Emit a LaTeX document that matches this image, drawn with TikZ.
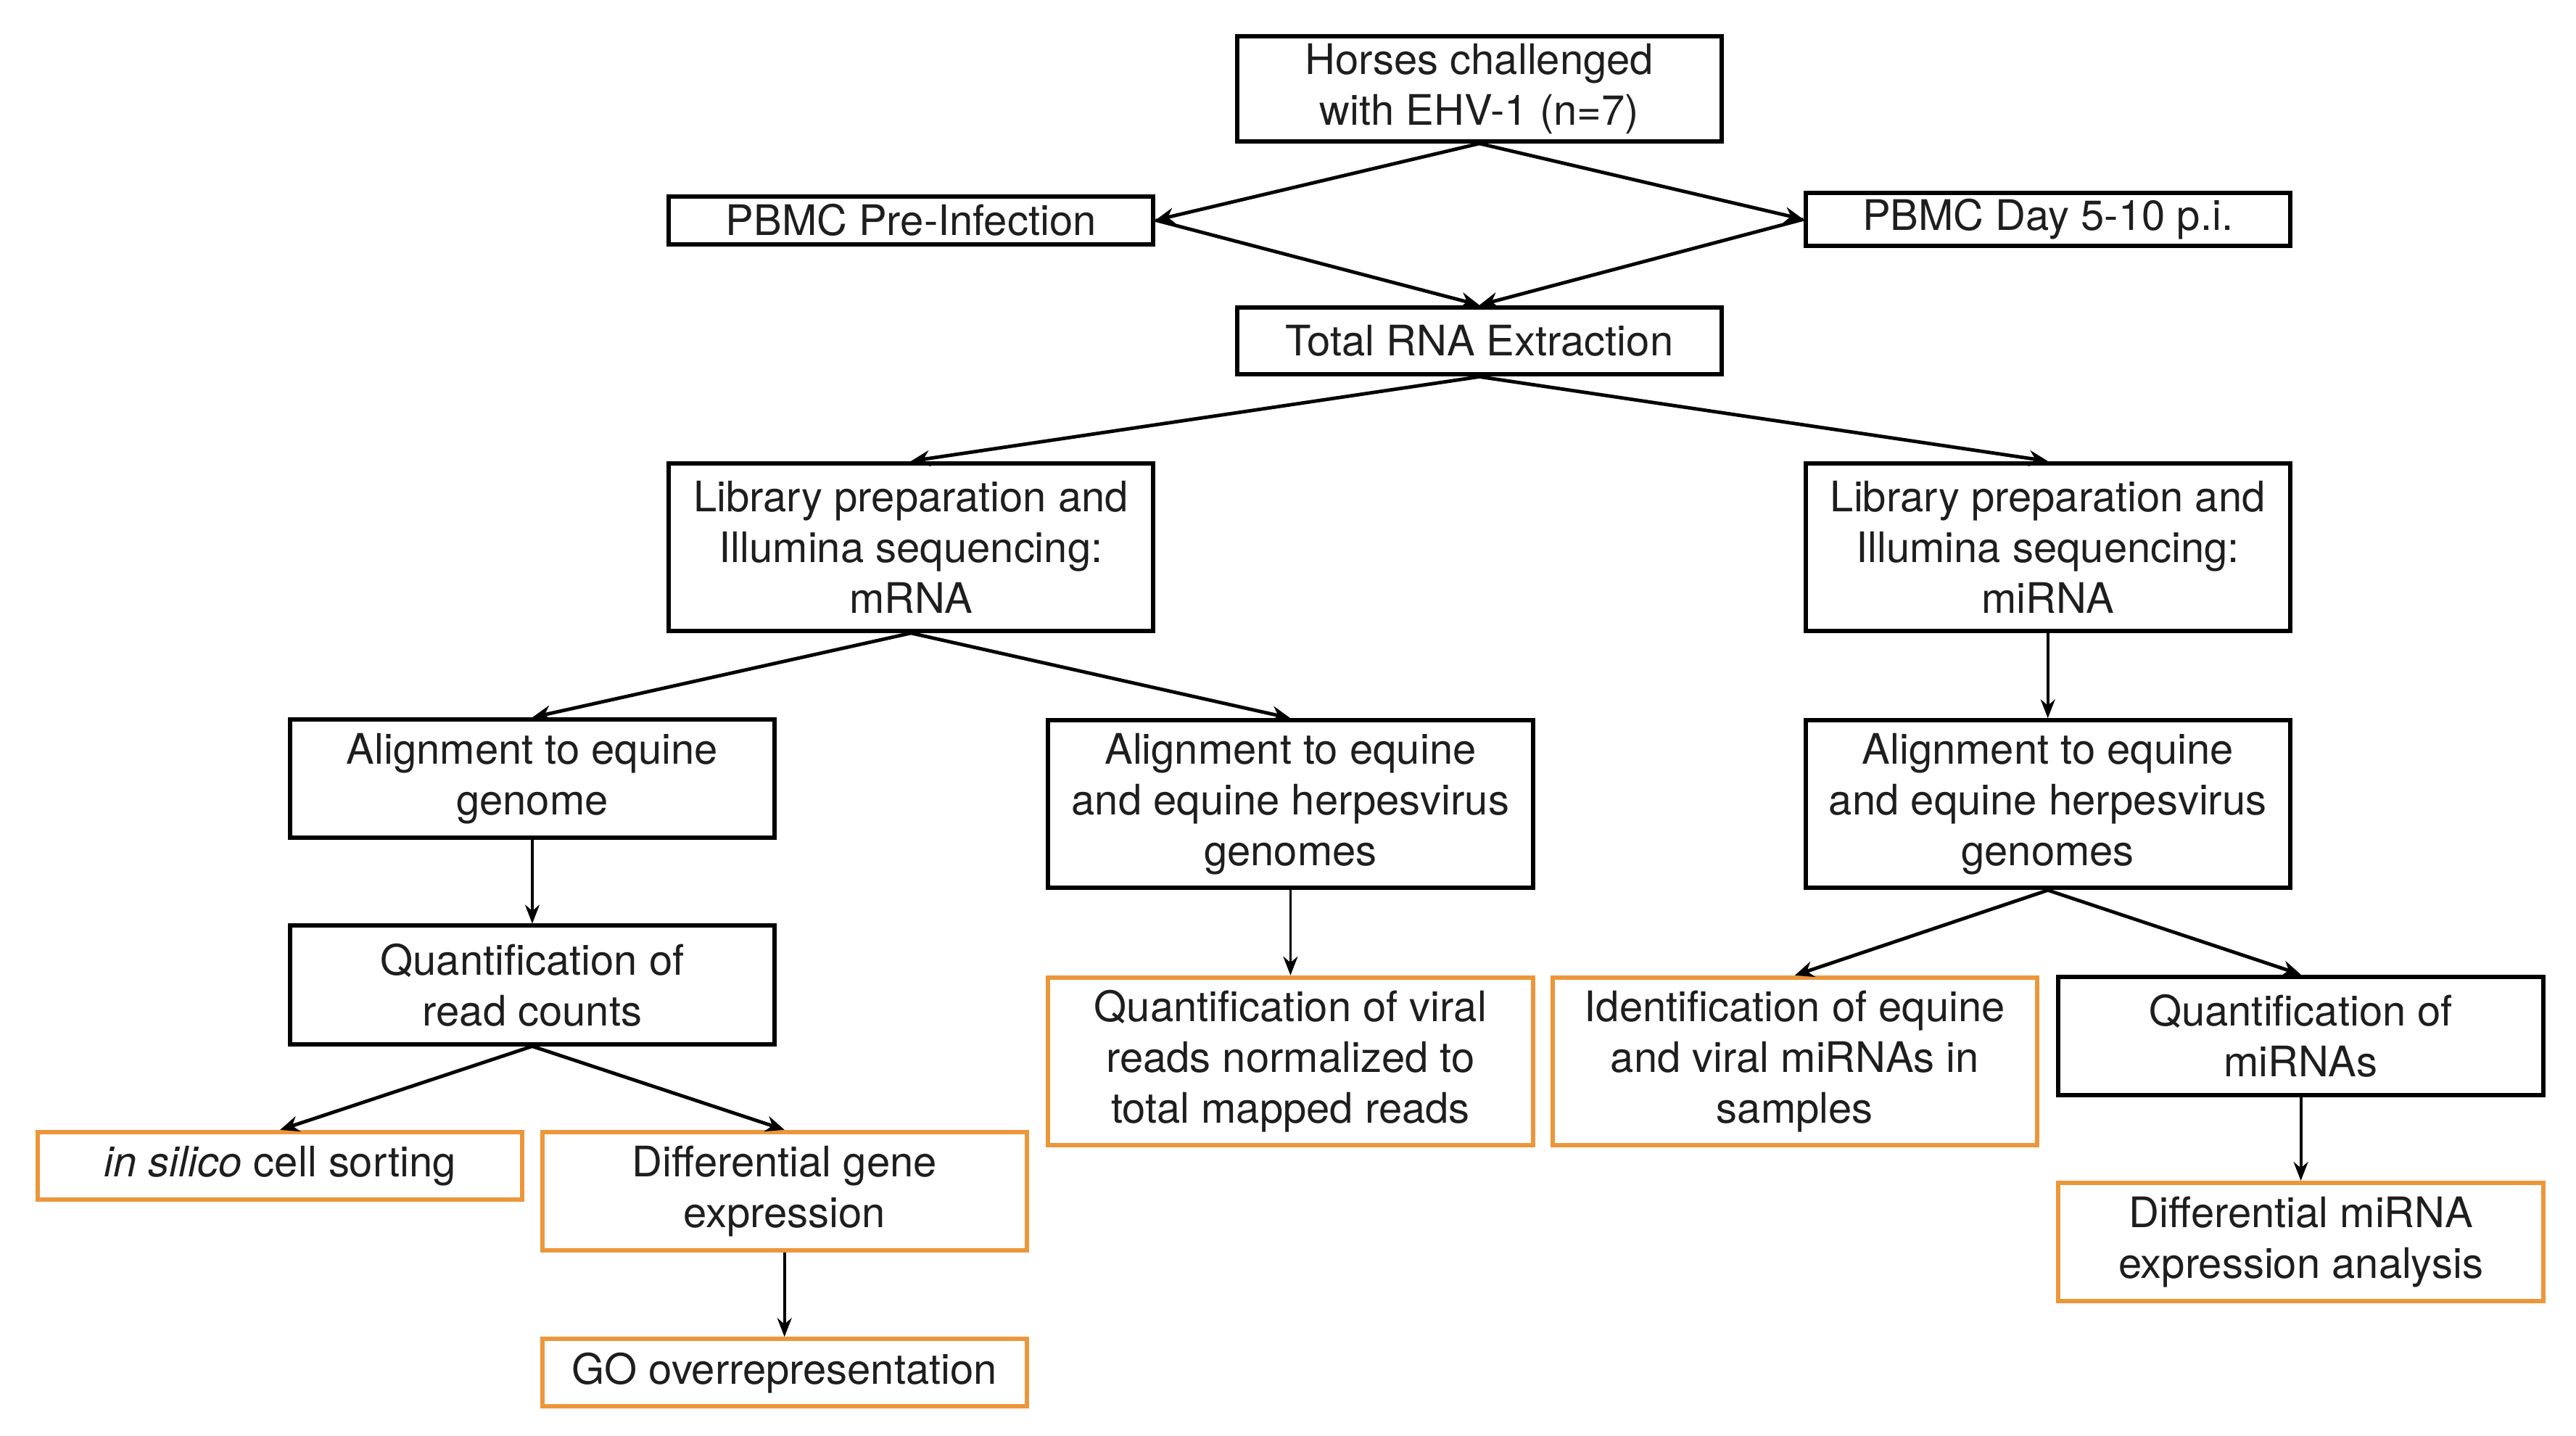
\documentclass[tikz,border=0pt]{standalone}
\usepackage{fontspec}
\setmainfont{TeX Gyre Heros}
\usetikzlibrary{arrows.meta}
\definecolor{orng}{RGB}{236,150,58}
\definecolor{txt}{RGB}{30,30,30}
\begin{document}
\begin{tikzpicture}[x=0.5665pt,y=-0.5665pt,
  box/.style={draw=black, line width=1.5pt, minimum width=167.1pt, inner sep=0pt, align=center,
    text=txt, font=\fontsize{14.5}{17.5}\selectfont},
  obox/.style={box, draw=orng},
  hone/.style={minimum height=23.2pt},
  htwo/.style={minimum height=40.8pt},
  hthree/.style={minimum height=57.8pt},
  arr/.style={-{Stealth[length=6.5pt,width=5.5pt]}, line width=1.2pt},
  varr/.style={-{Stealth[length=6.5pt,width=5pt]}, line width=0.95pt}]
\fill[white] (0,0) rectangle (1568,874);
\useasboundingbox (0,0) rectangle (1568,874);

\node[box, minimum height=36.3pt] (horses) at (900.5,54) {Horses challenged\\with EHV-1 (n=7)};
\node[box, minimum height=16.5pt] (pre) at (554.5,134) {PBMC Pre-Infection};
\node[box, minimum height=18.2pt] (day) at (1246.5,133.5) {PBMC Day 5-10 p.i.};
\node[box, hone] (total) at (900.5,207.5) {Total RNA Extraction};
\node[box, hthree] (libm) at (554.5,333) {Library preparation and\\Illumina sequencing:\\mRNA};
\node[box, hthree] (libmi) at (1246.5,333) {Library preparation and\\Illumina sequencing:\\miRNA};
\node[box, htwo] (alg) at (324,474) {Alignment to equine\\genome};
\node[box, hthree] (alh) at (785.5,489.5) {Alignment to equine\\and equine herpesvirus\\genomes};
\node[box, hthree] (alhmi) at (1246.5,489.5) {Alignment to equine\\and equine herpesvirus\\genomes};
\node[box, htwo] (qrc) at (324,599.5) {Quantification of\\read counts};
\node[obox, hthree] (qvr) at (785.5,646) {Quantification of viral\\reads normalized to\\total mapped reads};
\node[obox, hthree] (ident) at (1092.5,646) {Identification of equine\\and viral miRNAs in\\samples};
\node[box, htwo] (qmi) at (1400.5,630.5) {Quantification of\\miRNAs};
\node[obox, hone] (insil) at (170.5,709.5) {\textit{in silico} cell sorting};
\node[obox, htwo] (dge) at (477.5,725) {Differential gene\\expression};
\node[obox, hone] (go) at (477.5,835.5) {GO overrepresentation};
\node[obox, htwo] (dmi) at (1400.5,756) {Differential miRNA\\expression analysis};

\draw[arr] (horses.south) -- (pre.east);
\draw[arr] (horses.south) -- (day.west);
\draw[arr] (pre.east) -- (total.north);
\draw[arr] (day.west) -- (total.north);
\draw[arr] (total.south) -- (libm.north);
\draw[arr] (total.south) -- (libmi.north);
\draw[arr] (libm.south) -- (alg.north);
\draw[arr] (libm.south) -- (alh.north);
\draw[varr] (libmi.south) -- (alhmi.north);
\draw[varr] (alg.south) -- (qrc.north);
\draw[varr] (alh.south) -- (qvr.north);
\draw[arr] (alhmi.south) -- (ident.north);
\draw[arr] (alhmi.south) -- (qmi.north);
\draw[arr] (qrc.south) -- (insil.north);
\draw[arr] (qrc.south) -- (dge.north);
\draw[varr] (dge.south) -- (go.north);
\draw[varr] (qmi.south) -- (dmi.north);
\end{tikzpicture}
\end{document}
